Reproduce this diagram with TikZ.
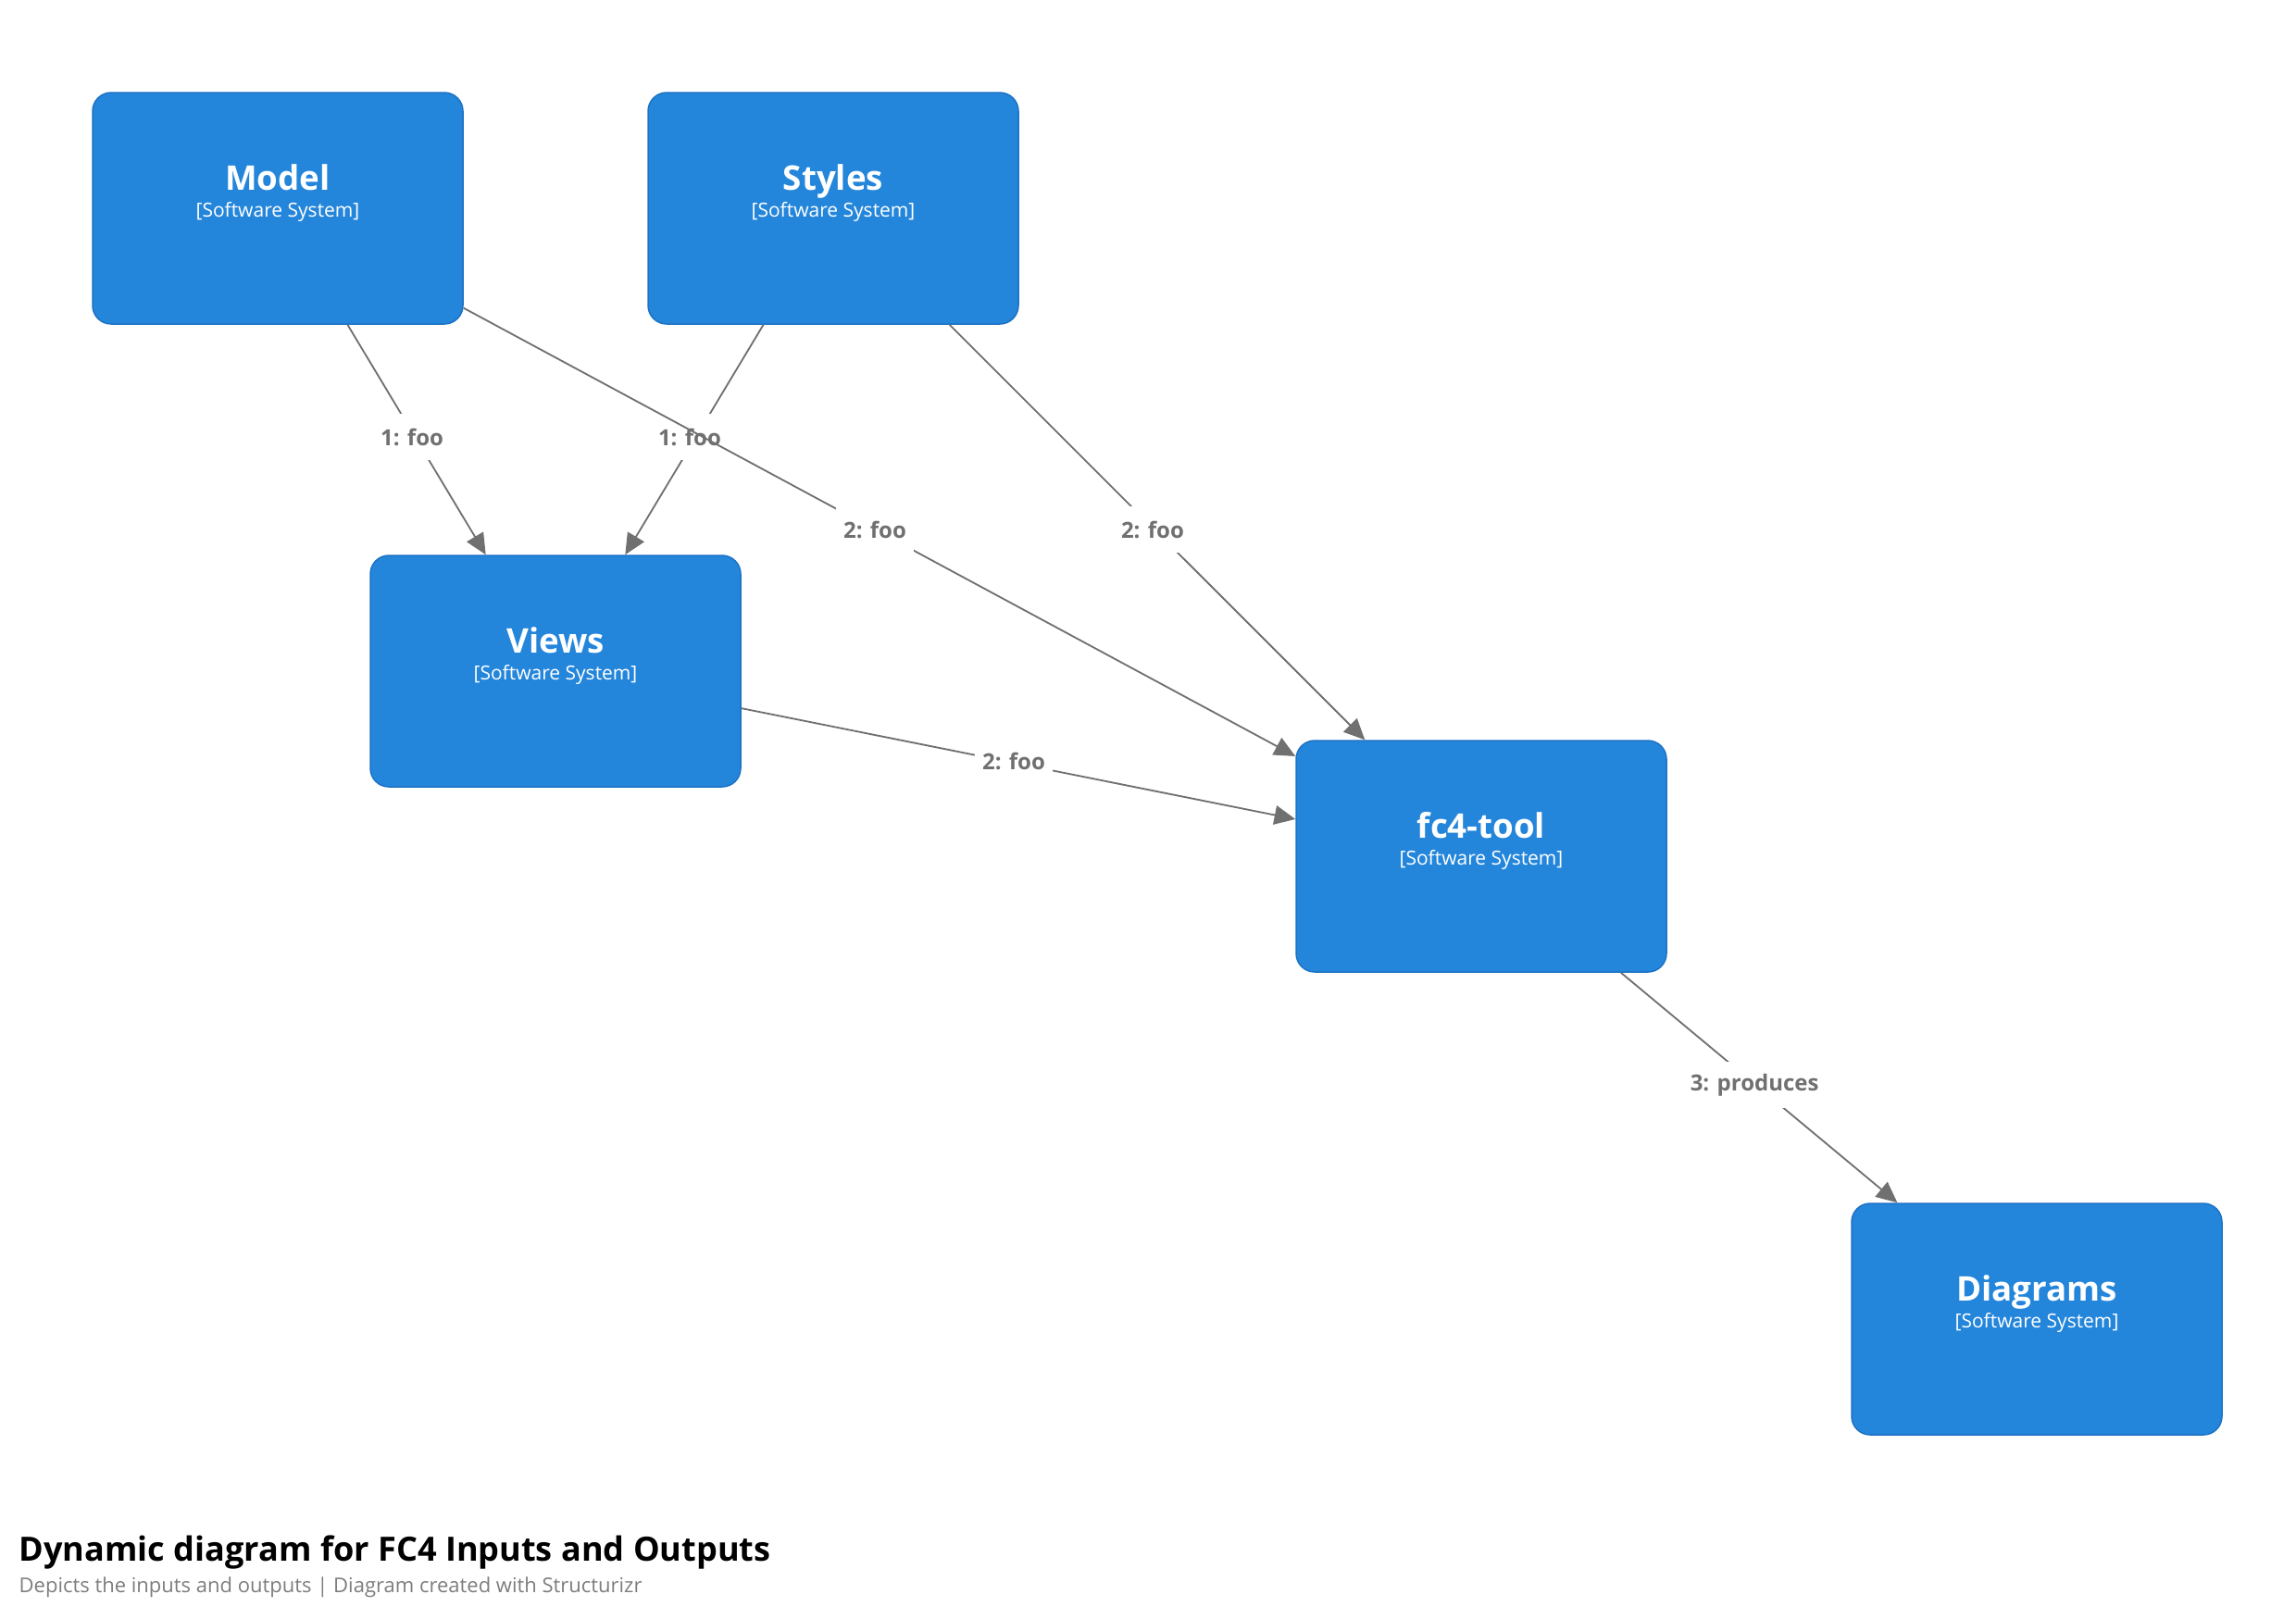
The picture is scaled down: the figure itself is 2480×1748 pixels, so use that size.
\documentclass[tikz,border=0pt]{standalone}
\usepackage{fontspec}
\setmainfont{Open Sans}
\usetikzlibrary{arrows.meta}
\definecolor{boxblue}{RGB}{36,134,219}
\definecolor{boxedge}{RGB}{28,114,196}
\definecolor{linkgray}{RGB}{112,112,112}
\definecolor{notegray}{RGB}{125,125,125}
\begin{document}
\begin{tikzpicture}[x=0.3pt,y=-0.3pt,
  system/.style={draw=boxedge, line width=0.45pt, fill=boxblue, rounded corners=6pt,
    minimum width=120pt, minimum height=75pt, inner sep=0pt},
  sysname/.style={anchor=base, text=white, font=\bfseries\fontsize{11}{13}\selectfont, inner sep=0pt},
  systype/.style={anchor=base, text=white, font=\fontsize{6.3}{8}\selectfont, inner sep=0pt},
  link/.style={draw=linkgray, line width=0.55pt, -{Triangle[length=6.8pt,width=6.2pt]}},
  steplabel/.style={fill=white, text=linkgray, font=\bfseries\fontsize{7.2}{9}\selectfont,
    inner xsep=2.5pt, inner ysep=0pt, minimum height=15pt, xshift=-1.5pt, yshift=0.8pt},
]
\useasboundingbox (0,0) rectangle (2480,1748);

% software systems
\node[system] (model) at (300,225) {};
\node[sysname] (model-name) at (300,205) {Model};
\node[systype] (model-type) at (300,234) {[Software System]};

\node[system] (styles) at (900,225) {};
\node[sysname] (styles-name) at (900,205) {Styles};
\node[systype] (styles-type) at (900,234) {[Software System]};

\node[system] (views) at (600,725) {};
\node[sysname] (views-name) at (600,705) {Views};
\node[systype] (views-type) at (600,734) {[Software System]};

\node[system] (tool) at (1600,925) {};
\node[sysname] (tool-name) at (1600,905) {fc4-tool};
\node[systype] (tool-type) at (1600,934) {[Software System]};

\node[system] (diagrams) at (2200,1425) {};
\node[sysname] (diagrams-name) at (2200,1405) {Diagrams};
\node[systype] (diagrams-type) at (2200,1434) {[Software System]};

% interactions
\draw[link] (model) -- node[steplabel] (l1a) {1: foo} (views);
\draw[link] (styles) -- node[steplabel] (l1b) {1: foo} (views);
\draw[link] (styles) -- node[steplabel] (l2b) {2: foo} (tool);
\draw[link] (views) -- node[steplabel] (l2c) {2: foo} (tool);
\draw[link] (tool) -- node[steplabel] (l3) {3: produces} (diagrams);
\draw[link] (model) -- node[steplabel] (l2a) {2: foo} (tool);

% title block
\node[anchor=base west, inner sep=0pt, font=\bfseries\fontsize{10.83}{13}\selectfont] (title) at (20,1686)
  {Dynamic diagram for FC4 Inputs and Outputs};
\node[anchor=base west, inner sep=0pt, text=notegray, font=\fontsize{6.6}{8}\selectfont] (subtitle) at (20,1720)
  {Depicts the inputs and outputs | Diagram created with Structurizr};
\end{tikzpicture}
\end{document}
